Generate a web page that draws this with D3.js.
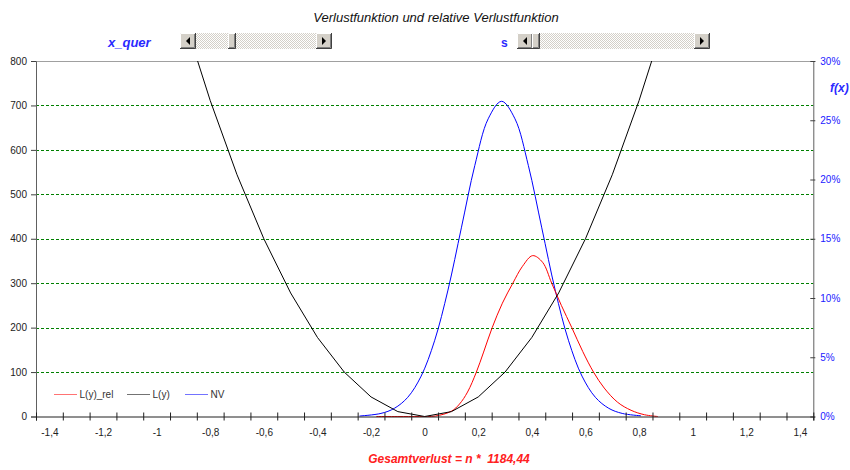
<!DOCTYPE html>
<html>
<head>
<meta charset="utf-8">
<script src="https://cdn.jsdelivr.net/npm/d3@7"></script>
<style>
  body { margin: 0; background: #fff; }
  svg { display: block; font-family: "Liberation Sans", Arial, sans-serif; }
  .pre { white-space: pre; }
</style>
</head>
<body>
<svg id="chart" width="850" height="470"></svg>
<script>
// ---- data ------------------------------------------------------------
// L(y): loss at the category points (every 0.1)
const lossX = [-0.9, -0.8, -0.7, -0.6, -0.5, -0.4, -0.3, -0.2, -0.1, 0, 0.1, 0.2, 0.3, 0.4, 0.5, 0.6, 0.7, 0.8, 0.9];
const lossY = [900, 711, 544, 400, 278, 178, 100, 44, 11, 0, 11, 44, 100, 178, 278, 400, 544, 711, 900];

// L(y)_rel: loss weighted by the distribution
const relX = [-0.18, -0.1, -0.02, 0.04, 0.1, 0.13, 0.16, 0.193, 0.22, 0.252, 0.29, 0.329, 0.365, 0.403, 0.44, 0.474, 0.51, 0.549, 0.59, 0.63, 0.67, 0.72, 0.77, 0.82, 0.87];
const relY = [0, 0, 0, 1, 12, 28, 55, 100, 145, 200, 255, 300, 338, 362, 347, 300, 250, 200, 146, 100, 64, 32, 14, 4, 0];

// NV: normal density f(x), in percent
const nvX = [-0.243, -0.163, -0.113, -0.063, -0.013, 0.037, 0.087, 0.137, 0.187, 0.237, 0.287, 0.337, 0.387, 0.437, 0.487, 0.537, 0.587, 0.637, 0.687, 0.737, 0.807];
const nvY = [0.04, 0.26, 0.69, 1.62, 3.41, 6.39, 10.67, 15.92, 21.17, 25.12, 26.6, 25.12, 21.17, 15.92, 10.67, 6.39, 3.41, 1.62, 0.69, 0.26, 0.06];

const xLabels = [-1.4, -1.2, -1, -0.8, -0.6, -0.4, -0.2, 0, 0.2, 0.4, 0.6, 0.8, 1, 1.2, 1.4];
const xBounds = d3.range(30).map(i => +(-1.45 + 0.1 * i).toFixed(2));
const leftTicks = [0, 100, 200, 300, 400, 500, 600, 700, 800];
const gridLevels = [100, 200, 300, 400, 500, 600, 700];
const rightTicks = [0, 0.05, 0.10, 0.15, 0.20, 0.25, 0.30];
const seriesNames = ["L(y)_rel", "L(y)", "NV"];
const seriesColors = ["#ff0000", "#000000", "#0000ff"];

// ---- layout ----------------------------------------------------------
const svg = d3.select("#chart");
const L = 36, R = 813.3, T = 61, B = 416.5;

const de = d3.formatLocale({ decimal: ",", thousands: ".", grouping: [3], currency: ["", " €"], minus: "-", percent: "%" });
const fmtNum = de.format("~g");
const fmtPct = de.format(".0%");

const x = d3.scaleLinear().domain([-1.45, 1.45]).range([L, R]);
const y = d3.scaleLinear().domain([0, 800]).range([B, T]);
const y2 = d3.scaleLinear().domain([0, 0.30]).range([B, T]);

// gridlines
svg.append("g").selectAll("line").data(gridLevels).join("line")
  .attr("x1", L).attr("x2", R)
  .attr("y1", d => Math.round(y(d)) + 0.5).attr("y2", d => Math.round(y(d)) + 0.5)
  .attr("stroke", "#008000").attr("stroke-width", 1).attr("stroke-dasharray", "3,2");

// top border of the plot area
svg.append("line").attr("x1", L).attr("x2", R).attr("y1", T + 0.5).attr("y2", T + 0.5)
  .attr("stroke", "#a0a0a0");

// clip for the curves
svg.append("clipPath").attr("id", "plotclip").append("rect")
  .attr("x", L).attr("y", T).attr("width", R - L).attr("height", B - T + 1);

const plot = svg.append("g").attr("clip-path", "url(#plotclip)");

const lossLine = d3.line().x(d => x(d[0])).y(d => y(d[1])).curve(d3.curveLinear);
const relLine = d3.line().x(d => x(d[0])).y(d => y(d[1])).curve(d3.curveCatmullRom.alpha(0.5));
const nvLine = d3.line().x(d => x(d[0])).y(d => y2(d[1] / 100)).curve(d3.curveCatmullRom.alpha(0.5));

plot.append("path").datum(d3.zip(nvX, nvY)).attr("d", nvLine)
  .attr("fill", "none").attr("stroke", seriesColors[2]).attr("stroke-width", 1);
plot.append("path").datum(d3.zip(relX, relY)).attr("d", relLine)
  .attr("fill", "none").attr("stroke", seriesColors[0]).attr("stroke-width", 1);
plot.append("path").datum(d3.zip(lossX, lossY)).attr("d", lossLine)
  .attr("fill", "none").attr("stroke", seriesColors[1]).attr("stroke-width", 1);

// left axis
const gl = svg.append("g").attr("transform", `translate(${L},0)`)
  .call(d3.axisLeft(y).tickValues(leftTicks).tickSize(5).tickPadding(4).tickFormat(fmtNum));
gl.select(".domain").attr("stroke", "#606060");
gl.selectAll(".tick line").attr("stroke", "#404040");
gl.selectAll("text").attr("font-size", 10).attr("fill", "#222")
  .attr("font-family", "'Liberation Sans', Arial, sans-serif");

// right axis (f(x) in percent)
const gr = svg.append("g").attr("transform", `translate(${R},0)`)
  .call(d3.axisRight(y2).tickValues(rightTicks).tickSize(2).tickPadding(5).tickFormat(fmtPct));
gr.select(".domain").attr("stroke", "#606060");
gr.selectAll(".tick line").attr("x1", -3).attr("stroke", "#404040");
gr.selectAll("text").attr("font-size", 10).attr("fill", "#2020ff")
  .attr("font-family", "'Liberation Sans', Arial, sans-serif");

// bottom axis: tick marks between the categories
const gb = svg.append("g").attr("transform", `translate(0,${B})`)
  .call(d3.axisBottom(x).tickValues(xBounds).tickSize(4).tickFormat(""));
gb.select(".domain").attr("stroke", "#202020");
gb.selectAll(".tick line").attr("y1", -4).attr("stroke", "#202020");

// bottom axis labels at the category centres
const gbl = svg.append("g").attr("transform", `translate(0,${B})`)
  .call(d3.axisBottom(x).tickValues(xLabels).tickSize(0).tickPadding(12).tickFormat(fmtNum));
gbl.select(".domain").remove();
gbl.selectAll("text").attr("font-size", 10).attr("fill", "#222")
  .attr("font-family", "'Liberation Sans', Arial, sans-serif");

// legend
const legX = [54, 127, 185];
const legend = svg.append("g");
seriesNames.forEach((name, i) => {
  legend.append("line").attr("x1", legX[i]).attr("x2", legX[i] + 23)
    .attr("y1", 394.5).attr("y2", 394.5)
    .attr("stroke", seriesColors[i]).attr("stroke-opacity", 0.55);
  legend.append("text").attr("x", legX[i] + 25.5).attr("y", 398)
    .attr("font-size", 10).attr("fill", "#333").text(name);
});

// title and labels
svg.append("text").attr("x", 436).attr("y", 21.5).attr("text-anchor", "middle")
  .attr("font-size", 13).attr("font-style", "italic").attr("fill", "#111")
  .text("Verlustfunktion und relative Verlustfunktion");
svg.append("text").attr("x", 108).attr("y", 46.5)
  .attr("font-size", 13).attr("font-style", "italic").attr("font-weight", "bold").attr("fill", "#2a2aff")
  .text("x_quer");
svg.append("text").attr("x", 501).attr("y", 46.5)
  .attr("font-size", 12).attr("font-weight", "bold").attr("fill", "#2a2aff")
  .text("s");
svg.append("text").attr("x", 830).attr("y", 91.5)
  .attr("font-size", 12).attr("font-style", "italic").attr("font-weight", "bold").attr("fill", "#2a2aff")
  .text("f(x)");
svg.append("text").attr("class", "pre").attr("x", 449).attr("y", 463).attr("text-anchor", "middle")
  .attr("font-size", 12).attr("font-style", "italic").attr("font-weight", "bold").attr("fill", "#ff2020")
  .text("Gesamtverlust = n *  1184,44");

// scroll bar controls
const defs = svg.append("defs");
const pat = defs.append("pattern").attr("id", "track").attr("width", 2).attr("height", 2)
  .attr("patternUnits", "userSpaceOnUse");
pat.append("rect").attr("width", 2).attr("height", 2).attr("fill", "#ffffff");
pat.append("rect").attr("width", 1).attr("height", 1).attr("fill", "#d4d0c8");
pat.append("rect").attr("x", 1).attr("y", 1).attr("width", 1).attr("height", 1).attr("fill", "#d4d0c8");

function bevel(g, bx, by, w, h) {
  g.append("rect").attr("x", bx).attr("y", by).attr("width", w).attr("height", h).attr("fill", "#d4d0c8");
  g.append("path").attr("d", `M${bx + 0.5},${by + h - 1}V${by + 0.5}H${bx + w - 1}`)
    .attr("fill", "none").attr("stroke", "#ffffff");
  g.append("path").attr("d", `M${bx + 1},${by + h - 1.5}H${bx + w - 1.5}V${by + 1}`)
    .attr("fill", "none").attr("stroke", "#808080");
  g.append("path").attr("d", `M${bx},${by + h - 0.5}H${bx + w - 0.5}V${by}`)
    .attr("fill", "none").attr("stroke", "#404040");
}

function scrollBar(bx, by, w, thumbX) {
  const h = 16, g = svg.append("g");
  g.append("rect").attr("x", bx).attr("y", by).attr("width", w).attr("height", h).attr("fill", "url(#track)");
  bevel(g, bx, by, 16, h);
  bevel(g, bx + w - 16, by, 16, h);
  bevel(g, thumbX, by, 8, h);
  const cy = by + h / 2;
  g.append("path").attr("d", `M${bx + 6},${cy}L${bx + 10},${cy - 4}L${bx + 10},${cy + 4}Z`).attr("fill", "#000");
  const rx = bx + w - 16;
  g.append("path").attr("d", `M${rx + 10},${cy}L${rx + 6},${cy - 4}L${rx + 6},${cy + 4}Z`).attr("fill", "#000");
}
scrollBar(180, 33, 152, 228);
scrollBar(517, 33, 193, 532);
</script>
</body>
</html>
